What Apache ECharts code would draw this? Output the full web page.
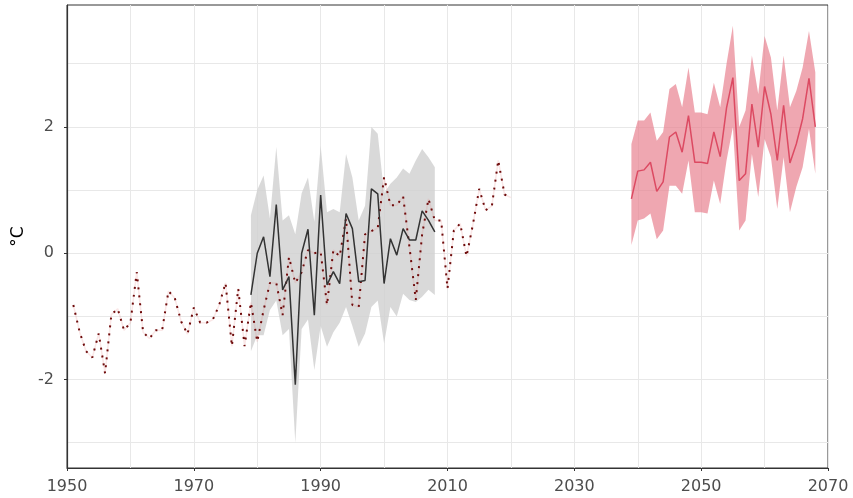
<!DOCTYPE html>
<html>
<head>
<meta charset="utf-8">
<script src="https://cdn.jsdelivr.net/npm/echarts@6/dist/echarts.min.js"></script>
<style>
  html, body { margin: 0; padding: 0; background: #fff; }
  #chart { width: 853px; height: 498px; }
</style>
</head>
<body>
<div id="chart"></div>
<script>
// observed anomaly, one value per year from 1951
var obsStart = 1951;
var obsValues = [
  -0.82, -1.25, -1.55, -1.65, -1.27, -1.90, -0.97, -0.88, -1.22, -1.10,
  -0.30, -1.25, -1.35, -1.22, -1.22, -0.60, -0.71, -1.08, -1.28, -0.86,
  -1.10, -1.10, -1.05, -0.82, -0.47, -1.47, -0.56, -1.47, -0.78, -1.40,
  -0.90, -0.47, -0.47, -0.98, -0.06, -0.47, -0.30, 0.05, 0.00, 0.02,
  -0.82, 0.05, -0.05, 0.55, -0.82, -0.85, 0.30, 0.35, 0.40, 1.20,
  0.76, 0.76, 0.90, 0.10, -0.74, 0.30, 0.86, 0.52, 0.52, -0.56,
  0.36, 0.47, -0.05, 0.45, 1.02, 0.68, 0.75, 1.47, 0.93, 0.88
];

// historical simulation 1979-2008: mean and range
var histStart = 1979;
var histMean = [
  -0.66, 0.00, 0.26, -0.37, 0.77, -0.58, -0.37, -2.08, 0.00, 0.38,
  -0.98, 0.92, -0.50, -0.29, -0.48, 0.63, 0.39, -0.45, -0.43, 1.02,
  0.94, -0.48, 0.23, -0.03, 0.39, 0.21, 0.21, 0.67, 0.52, 0.34
];
var histUpper = [
  0.60, 1.00, 1.23, 0.55, 1.68, 0.52, 0.60, 0.30, 0.95, 1.20,
  0.50, 1.70, 0.65, 0.70, 0.65, 1.57, 1.20, 0.52, 0.75, 2.00,
  1.89, 0.95, 1.10, 1.20, 1.34, 1.26, 1.47, 1.65, 1.52, 1.36
];
var histLower = [
  -1.55, -1.30, -1.30, -0.90, -0.75, -1.30, -1.20, -3.00, -1.20, -1.05,
  -1.85, -1.15, -1.48, -1.25, -1.10, -0.85, -1.15, -1.48, -1.27, -0.85,
  -0.75, -1.43, -0.85, -1.00, -0.64, -0.74, -0.77, -0.69, -0.58, -0.66
];

// projection 2039-2068: mean and range
var projStart = 2039;
var projMean = [
  0.86, 1.30, 1.32, 1.44, 0.98, 1.13, 1.84, 1.92, 1.60, 2.18,
  1.44, 1.44, 1.42, 1.92, 1.53, 2.30, 2.78, 1.15, 1.26, 2.36,
  1.68, 2.64, 2.20, 1.47, 2.34, 1.43, 1.73, 2.13, 2.77, 2.00
];
var projUpper = [
  1.73, 2.10, 2.10, 2.23, 1.78, 1.92, 2.60, 2.68, 2.31, 2.94,
  2.23, 2.23, 2.20, 2.70, 2.31, 3.00, 3.60, 2.00, 2.26, 3.13,
  2.52, 3.44, 3.10, 2.26, 3.13, 2.31, 2.57, 2.94, 3.52, 2.86
];
var projLower = [
  0.13, 0.52, 0.55, 0.63, 0.22, 0.36, 1.07, 1.07, 0.94, 1.47,
  0.65, 0.65, 0.63, 1.15, 0.78, 1.47, 2.00, 0.36, 0.52, 1.57,
  0.89, 1.81, 1.52, 0.70, 1.52, 0.65, 1.05, 1.36, 1.97, 1.26
];

var yLabelValues = [-2, 0, 2];
var yGridValues = [-3, -2, -1, 0, 1, 2, 3];

// 把年份和数值配成点
function toPoints(start, values) {
  return values.map(function (v, i) { return [start + i, v]; });
}

// 区间带: 用 custom 系列画多边形, 坐标走坐标轴换算
function bandSeries(id, start, lower, upper, color) {
  return {
    name: id + '_band', type: 'custom', silent: true, clip: true,
    data: [[start, lower[0]]],
    renderItem: function (params, api) {
      var pts = [];
      for (var i = 0; i < upper.length; i++) {
        pts.push(api.coord([start + i, upper[i]]));
      }
      for (var j = lower.length - 1; j >= 0; j--) {
        pts.push(api.coord([start + j, lower[j]]));
      }
      return {
        type: 'polygon',
        shape: { points: pts },
        style: { fill: color }
      };
    }
  };
}

var myChart = echarts.init(document.getElementById('chart'), null, { renderer: 'canvas' });

var series = [
  bandSeries('hist', histStart, histLower, histUpper, 'rgba(208,208,208,0.8)'),
  bandSeries('proj', projStart, projLower, projUpper, 'rgba(232,125,140,0.68)'),
  {
    name: 'obs_halo', type: 'line', data: toPoints(obsStart, obsValues),
    symbol: 'none', silent: true,
    lineStyle: { color: 'rgba(225,120,120,0.18)', width: 1.5 }
  },
  {
    name: 'obs', type: 'line', data: toPoints(obsStart, obsValues),
    symbol: 'none',
    lineStyle: { color: '#6e0b0b', width: 2, type: [2, 6] }
  },
  {
    name: 'hist', type: 'line', data: toPoints(histStart, histMean),
    symbol: 'none',
    lineStyle: { color: '#333333', width: 1.5 }
  },
  {
    name: 'proj', type: 'line', data: toPoints(projStart, projMean),
    symbol: 'none',
    lineStyle: { color: '#dc4a62', width: 1.5 }
  }
];

var option = {
  animation: false,
  backgroundColor: '#ffffff',
  grid: {
    left: 67, right: 25, top: 5, bottom: 30,
    show: true, borderColor: '#333333', borderWidth: 1,
    backgroundColor: 'transparent'
  },
  xAxis: [
    {
      type: 'value', min: 1950, max: 2070, interval: 10,
      axisLine: { show: true, onZero: false, lineStyle: { color: '#333333', width: 1.2 } },
      axisTick: { show: false },
      axisLabel: {
        color: '#4d4d4d', fontSize: 16, margin: 11,
        fontFamily: 'DejaVu Sans',
        formatter: function (v) { return (v - 1950) % 20 === 0 ? String(v) : ''; }
      },
      splitLine: { show: true, lineStyle: { color: '#e8e8e8', width: 1 } }
    },
    {
      type: 'value', min: 1950, max: 2070, interval: 20, position: 'bottom',
      axisLine: { show: false, onZero: false },
      axisTick: { show: true, length: 3, lineStyle: { color: '#333333' } },
      axisLabel: { show: false },
      splitLine: { show: false }
    }
  ],
  yAxis: [
    {
      type: 'value', min: -3.4, max: 3.93,
      name: '°C', nameLocation: 'middle', nameGap: 34, nameRotate: 90,
      nameTextStyle: { color: '#000000', fontSize: 17, fontFamily: 'DejaVu Sans' },
      axisLine: { show: true, onZero: false, lineStyle: { color: '#333333', width: 1.2 } },
      axisTick: { show: false, customValues: yGridValues },
      axisLabel: {
        customValues: yLabelValues, color: '#4d4d4d', fontSize: 16, margin: 13,
        fontFamily: 'DejaVu Sans'
      },
      splitLine: { show: true, lineStyle: { color: '#e8e8e8', width: 1 } }
    },
    {
      type: 'value', min: -3.4, max: 3.93, position: 'left',
      axisLine: { show: false, onZero: false },
      axisTick: { show: true, length: 3, customValues: yLabelValues, lineStyle: { color: '#333333' } },
      axisLabel: { show: false },
      splitLine: { show: false }
    }
  ],
  series: series
};

myChart.setOption(option);
</script>
</body>
</html>
